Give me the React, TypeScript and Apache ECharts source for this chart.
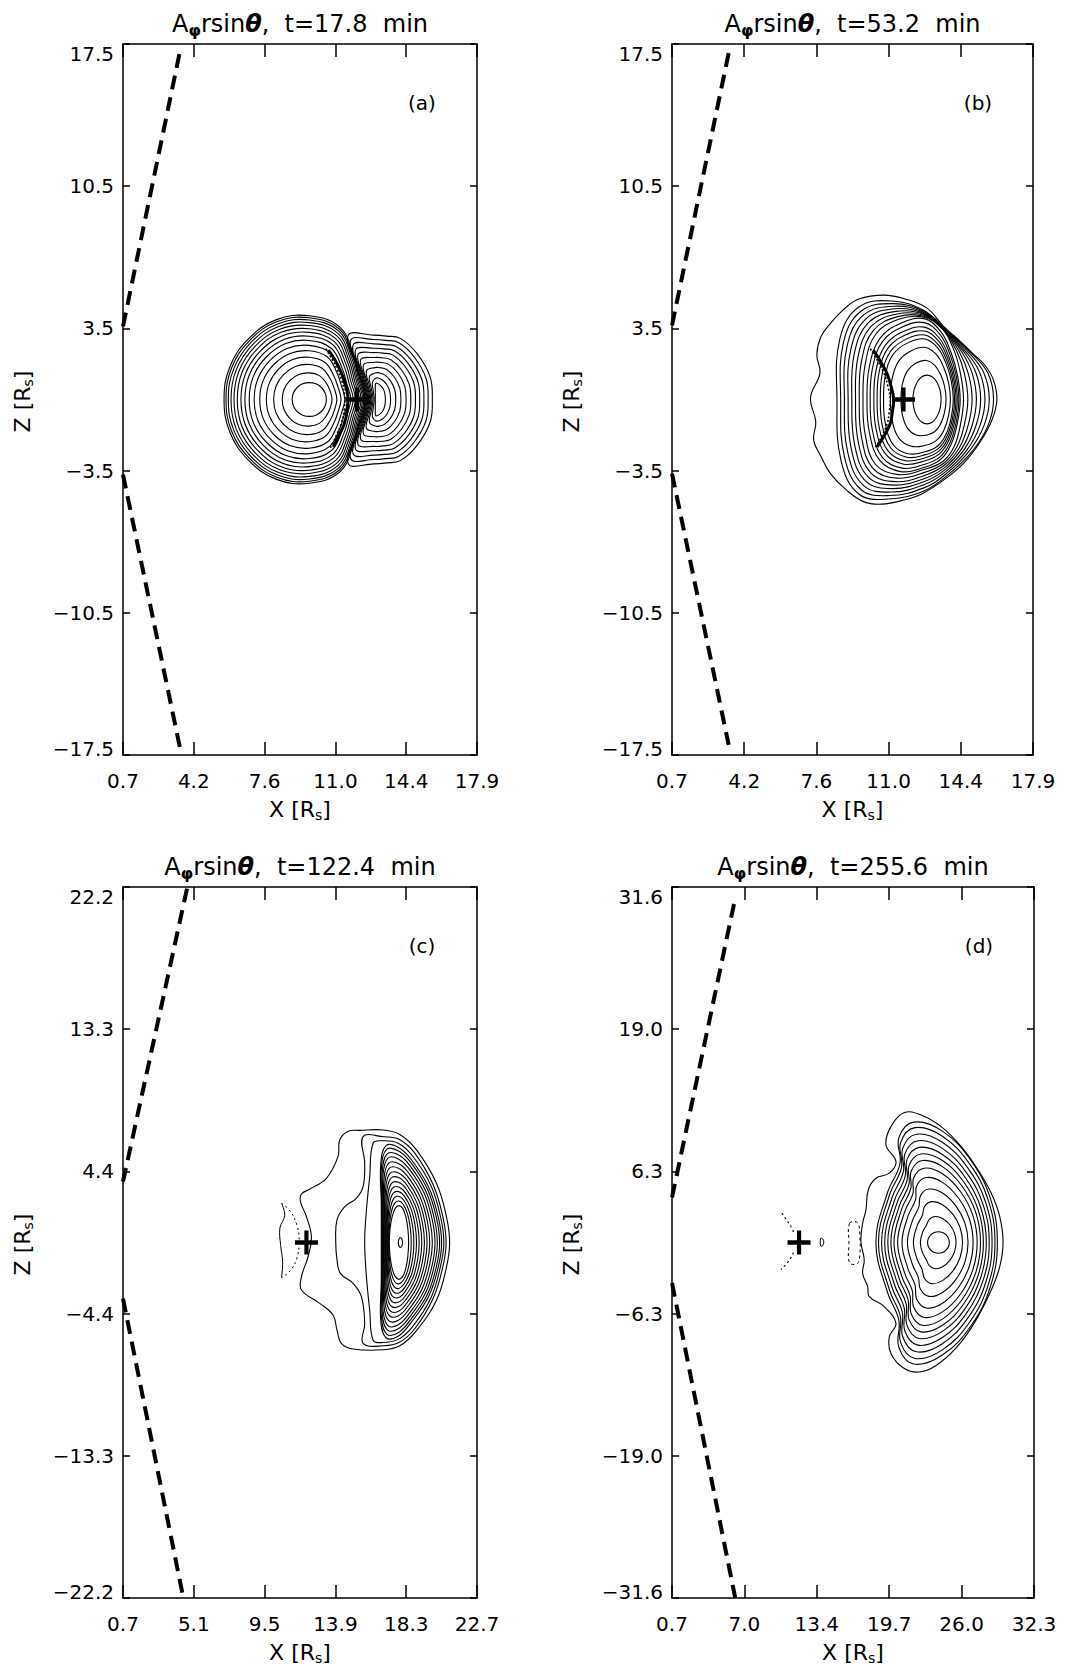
import React, { useEffect, useRef } from 'react';
import * as echarts from 'echarts';

const FONT = 'DejaVu Sans';

// ---------- axis data ----------
const panelTimes = ['17.8', '53.2', '122.4', '255.6'];
const panelLetters = ['(a)', '(b)', '(c)', '(d)'];
const xMin = [0.7, 0.7, 0.7, 0.7];
const xMax = [17.9, 17.9, 22.7, 32.3];
const zMax = [17.5, 17.5, 22.2, 31.6];
const xTickLabels = [
  ['0.7', '4.2', '7.6', '11.0', '14.4', '17.9'],
  ['0.7', '4.2', '7.6', '11.0', '14.4', '17.9'],
  ['0.7', '5.1', '9.5', '13.9', '18.3', '22.7'],
  ['0.7', '7.0', '13.4', '19.7', '26.0', '32.3'],
];
const zTickLabels = [
  ['\u221217.5', '\u221210.5', '\u22123.5', '3.5', '10.5', '17.5'],
  ['\u221217.5', '\u221210.5', '\u22123.5', '3.5', '10.5', '17.5'],
  ['\u221222.2', '\u221213.3', '\u22124.4', '4.4', '13.3', '22.2'],
  ['\u221231.6', '\u221219.0', '\u22126.3', '6.3', '19.0', '31.6'],
];

// ---------- dashed lines (upper, lower) ----------
const dashUpper = [
  [[0.7, 3.6], [3.46, 17.1]],
  [[0.7, 3.65], [3.4, 17.05]],
  [[0.7, 3.8], [4.7, 22.2]],
  [[0.7, 4.0], [6.24, 30.7]],
];
const dashLower = [
  [[0.7, -3.7], [3.46, -17.1]],
  [[0.7, -3.65], [3.4, -17.0]],
  [[0.7, -3.5], [4.45, -22.2]],
  [[0.7, -3.6], [6.22, -31.6]],
];
const crossPos = [[12.06, 0], [11.73, 0], [12.1, 0], [11.79, 0]];

// ---------- panel (a) ----------
const aLeftInner = [[10.58, 0], [10.52, 0.32], [10.34, 0.59], [10.07, 0.77], [9.75, 0.83], [9.43, 0.77], [9.16, 0.59], [8.98, 0.32], [8.92, 0], [8.98, -0.32], [9.16, -0.59], [9.43, -0.77], [9.75, -0.83], [10.07, -0.77], [10.34, -0.59], [10.52, -0.32]];
const aLeftOuter = [[12.46, 0], [12.2, 1.01], [11.91, 2.16], [11.25, 3.55], [9.75, 4.12], [8.13, 3.92], [6.78, 2.97], [5.89, 1.6], [5.61, 0], [5.89, -1.6], [6.78, -2.97], [8.13, -3.92], [9.75, -4.12], [11.25, -3.55], [11.91, -2.16], [12.2, -1.01]];
const aLeftLevels = [0, 0.146, 0.272, 0.379, 0.476, 0.558, 0.631, 0.694, 0.752, 0.806, 0.854, 0.898, 0.937, 0.971, 1];
const aRightInner = [[13.45, 0], [13.42, 0.3], [13.33, 0.55], [13.18, 0.72], [13.05, 0.8], [12.97, 0.78], [12.96, 0.55], [12.96, 0.28], [12.96, 0], [12.96, -0.28], [12.96, -0.55], [12.97, -0.78], [13.05, -0.8], [13.18, -0.72], [13.33, -0.55], [13.42, -0.3]];
const aRightOuter = [[15.73, 0], [15.62, 1.12], [14.98, 2.27], [14.17, 3.01], [13.5, 3.12], [12.87, 3.17], [11.65, 3.17], [12.05, 1.6], [12.46, 0], [12.05, -1.6], [11.65, -3.17], [12.87, -3.17], [13.5, -3.12], [14.17, -3.01], [14.98, -2.27], [15.62, -1.12]];
const aRightLevels = [0, 0.11, 0.22, 0.33, 0.44, 0.54, 0.64, 0.73, 0.82, 0.91, 1];
const aArc = [[10.68, 2.43], [11.0, 1.95], [11.25, 1.45], [11.5, 0.8], [11.62, 0.2], [11.6, -0.5], [11.45, -1.2], [11.2, -1.75], [10.92, -2.33]];
const aArcFringe = [[10.55, 2.5], [10.85, 2.0], [11.1, 1.5], [11.35, 0.85], [11.47, 0.2], [11.45, -0.5], [11.3, -1.2], [11.05, -1.8], [10.75, -2.45]];

// ---------- panel (b) ----------
const bInner = [[13.52, 0], [13.47, 0.46], [13.32, 0.85], [13.11, 1.11], [12.85, 1.2], [12.59, 1.11], [12.38, 0.85], [12.23, 0.46], [12.18, 0], [12.23, -0.46], [12.38, -0.85], [12.59, -1.11], [12.85, -1.2], [13.11, -1.11], [13.32, -0.85], [13.47, -0.46]];
const bBand = [[14.43, 0], [14.3, 1.2], [14.0, 2.3], [13.5, 3.35], [12.7, 3.98], [11.6, 3.75], [10.6, 3.0], [10.1, 1.6], [9.99, 0], [10.1, -1.6], [10.6, -3.0], [11.6, -3.55], [12.7, -3.35], [13.5, -2.95], [14.0, -2.2], [14.3, -1.15]];
const bLevelsIn = [0, 0.26, 0.49, 0.64, 0.71, 0.78, 0.85, 0.93, 1];
const bBandOut = [[14.59, 0], [14.45, 1.25], [14.15, 2.38], [13.6, 3.45], [12.7, 4.05], [11.5, 3.95], [10.4, 3.2], [9.9, 1.7], [9.8, 0], [9.9, -1.7], [10.4, -3.2], [11.5, -3.7], [12.7, -3.45], [13.6, -3.05], [14.15, -2.3], [14.45, -1.2]];
const bOuter = [[16.02, 0], [15.75, 1.3], [15.0, 2.25], [13.8, 3.4], [12.7, 4.38], [11.2, 4.85], [9.6, 4.55], [8.7, 3.0], [8.56, 0], [8.75, -3.0], [9.6, -4.65], [11.0, -4.9], [12.7, -4.5], [13.8, -3.75], [15.0, -2.55], [15.75, -1.3]];
const bLevelsOut = [0, 0.143, 0.286, 0.429, 0.571, 0.714, 0.857, 1];
const bEdge = [[16.18, 0], [16.0, 1.0], [15.6, 1.7], [15.1, 2.2], [14.4, 2.9], [13.64, 3.6], [12.85, 4.5], [11.8, 4.95], [10.8, 5.14], [9.6, 4.95], [8.9, 4.45], [8.25, 3.75], [7.8, 3.1], [7.6, 2.2], [7.75, 1.3], [7.3, 0.1], [7.55, -1.1], [7.45, -2.0], [7.8, -2.8], [8.25, -3.65], [9.0, -4.45], [9.85, -5.04], [10.7, -5.15], [11.75, -4.95], [12.6, -4.65], [13.64, -3.97], [14.59, -3.15], [15.39, -2.08], [15.95, -1.0]];
const bArc = [[10.29, 2.43], [10.65, 1.85], [10.94, 1.29], [11.15, 0.6], [11.26, 0], [11.2, -0.6], [11.1, -1.18], [10.78, -1.84], [10.47, -2.33]];
const bArcFringe = [[10.15, 2.5], [10.5, 1.9], [10.8, 1.3], [11.0, 0.6], [11.1, 0], [11.05, -0.6], [10.95, -1.2], [10.65, -1.9], [10.35, -2.4]];

// ---------- panel (c) ----------
const cInner = [[18.45, 0], [18.4, 0.88], [18.27, 1.63], [18.08, 2.13], [17.85, 2.3], [17.62, 2.13], [17.43, 1.63], [17.3, 0.88], [17.25, 0], [17.3, -0.88], [17.43, -1.63], [17.62, -2.13], [17.85, -2.3], [18.08, -2.13], [18.27, -1.63], [18.4, -0.88]];
const cOuter = [[20.5, 0], [20.3, 1.55], [19.7, 3.45], [18.6, 5.2], [17.8, 5.95], [17.05, 6.05], [16.72, 4.9], [16.75, 2.5], [16.75, 0], [16.75, -2.5], [16.72, -4.9], [17.05, -5.95], [17.8, -5.85], [18.6, -5.0], [19.7, -3.35], [20.3, -1.5]];
const cLevels = [0, 0.08, 0.16, 0.24, 0.32, 0.4, 0.48, 0.56, 0.64, 0.72, 0.8, 0.87, 0.94, 1];
const cCore = [[18.07, 0], [18.03, 0.22], [17.94, 0.31], [17.85, 0.22], [17.81, 0], [17.85, -0.22], [17.94, -0.31], [18.03, -0.22]];
const cW1 = [[21.0, 0], [20.8, 1.62], [20.18, 3.7], [18.94, 5.78], [17.9, 6.75], [16.86, 7.03], [15.41, 7.0], [14.7, 6.95], [14.17, 6.4], [14.06, 5.36], [13.34, 4.01], [12.3, 3.33], [11.79, 3.03], [11.73, 2.55], [12.1, 1.61], [12.41, 0.36], [12.2, -0.89], [11.79, -2.14], [11.79, -2.97], [12.93, -3.8], [13.75, -4.53], [14.0, -5.47], [14.27, -6.3], [15.0, -6.65], [16.86, -6.7], [17.9, -6.45], [18.94, -5.5], [20.18, -3.6], [20.8, -1.55]];
const cW2 = [[20.78, 0], [20.58, 1.6], [19.97, 3.62], [18.82, 5.6], [17.85, 6.45], [16.9, 6.6], [15.62, 6.61], [15.72, 4.95], [15.62, 3.49], [15.2, 2.76], [14.48, 2.24], [14.0, 1.41], [13.92, 0.05], [14.0, -1.09], [14.21, -1.93], [15.0, -2.55], [15.52, -3.39], [15.72, -5.05], [15.62, -6.3], [16.9, -6.45], [17.85, -6.25], [18.82, -5.4], [19.97, -3.5], [20.58, -1.5]];
const cW3 = [[20.64, 0], [20.44, 1.58], [19.84, 3.55], [18.7, 5.4], [17.8, 6.2], [16.8, 6.35], [16.24, 6.2], [16.03, 4.11], [15.83, 2.03], [15.72, 0.05], [15.83, -2.14], [16.03, -4.22], [16.24, -6.1], [16.8, -6.25], [17.8, -6.05], [18.7, -5.25], [19.84, -3.45], [20.44, -1.45]];
const cLensLeft = [[10.55, 2.45], [10.75, 1.7], [10.45, 0.9], [10.5, -0.2], [10.62, -1.2], [10.55, -2.2]];
const cLensRight = [[10.55, 2.45], [11.1, 1.95], [11.5, 1.1], [11.65, 0.1], [11.5, -1.0], [11.1, -1.75], [10.55, -2.2]];

// ---------- panel (d) ----------
const dInner = [[24.91, 0], [24.84, 0.36], [24.63, 0.67], [24.32, 0.88], [23.96, 0.95], [23.6, 0.88], [23.29, 0.67], [23.08, 0.36], [23.01, 0], [23.08, -0.36], [23.29, -0.67], [23.6, -0.88], [23.96, -0.95], [24.32, -0.88], [24.63, -0.67], [24.84, -0.36]];
const dOuter = [[29.1, 0], [28.5, 3.9], [26.8, 7.3], [24.3, 9.9], [21.8, 10.7], [20.5, 9.3], [20.6, 7.0], [19.5, 4.4], [18.5, 0], [19.5, -4.4], [20.5, -6.9], [20.5, -9.3], [21.8, -10.8], [24.3, -10.0], [26.8, -7.4], [28.5, -3.9]];
const dLevels = [0, 0.14, 0.275, 0.39, 0.495, 0.58, 0.65, 0.71, 0.77, 0.83, 0.89, 0.95, 1];
const dEdge = [[29.6, 0], [29.31, 2.3], [28.57, 4.38], [27.41, 6.45], [25.95, 8.52], [24.2, 10.3], [22.44, 11.34], [20.98, 11.55], [19.81, 10.3], [19.38, 8.67], [20.25, 7.19], [19.67, 6.16], [18.5, 5.71], [17.83, 4.67], [17.63, 2.89], [17.34, 1.71], [17.19, 0.08], [17.48, -1.56], [17.34, -2.74], [17.78, -3.93], [17.92, -4.82], [19.23, -5.7], [20.25, -7.19], [19.67, -8.38], [19.81, -9.86], [20.98, -11.2], [22.44, -11.49], [24.2, -10.6], [25.95, -8.83], [27.41, -6.6], [28.57, -4.23], [29.31, -2.15]];
const dSmallD = [[13.68, 0.37], [13.85, 0.33], [13.95, 0.05], [13.85, -0.28], [13.68, -0.31]];
const dBox = [[16.2, 1.7], [16.9, 1.75], [17.1, 0.5], [17.1, -1.0], [16.9, -1.85], [16.2, -1.8], [16.15, 0]];
const dDotsUpper = [[10.3, 2.6], [10.7, 2.0], [11.1, 1.4], [11.4, 0.7]];
const dDotsLower = [[11.3, -0.9], [11.0, -1.5], [10.6, -2.0], [10.2, -2.4]];

// ---------- layout (page pixels; body margin removed) ----------
const gridBoxes = [[123, 44, 354, 711], [672, 44, 361, 711], [123, 887, 354, 711], [672, 887, 362, 711]];

type Shape = { loop: boolean; inner: number[][]; outer: number[][]; t: number; w: number; dash?: number[] };
const family = (inner: number[][], outer: number[][], levels: number[], w = 1.1): Shape[] =>
  levels.map((t) => ({ loop: true, inner, outer, t, w }));
const loop = (pts: number[][], w = 1.1, dash?: number[]): Shape => ({ loop: true, inner: pts, outer: pts, t: 0, w, dash });
const open = (pts: number[][], w = 1.1, dash?: number[]): Shape => ({ loop: false, inner: pts, outer: pts, t: 0, w, dash });

const panelShapes: Shape[][] = [
  [
    ...family(aLeftInner, aLeftOuter, aLeftLevels),
    ...family(aRightInner, aRightOuter, aRightLevels),
    open(aArc, 3),
    open(aArcFringe, 1.6, [2, 2]),
  ],
  [
    ...family(bInner, bBand, bLevelsIn),
    ...family(bBandOut, bOuter, bLevelsOut),
    loop(bEdge),
    open(bArc, 3),
    open(bArcFringe, 1.6, [2, 2]),
  ],
  [
    ...family(cInner, cOuter, cLevels),
    loop(cCore),
    loop(cW1),
    loop(cW2),
    loop(cW3),
    open(cLensLeft, 1),
    open(cLensRight, 1, [2, 3]),
  ],
  [
    ...family(dInner, dOuter, dLevels),
    loop(dEdge),
    loop(dSmallD, 1),
    loop(dBox, 1, [3, 3]),
    open(dDotsUpper, 1.2, [2, 3]),
    open(dDotsLower, 1.2, [2, 3]),
  ],
];

const ticks = (lo: number, hi: number) => [0, 1, 2, 3, 4, 5].map((k) => (k === 5 ? hi : lo + ((hi - lo) * k) / 5));

function buildOption() {
  const grid: any[] = [];
  const xAxis: any[] = [];
  const yAxis: any[] = [];
  const series: any[] = [];
  const graphic: any[] = [];
  const lineCol = '#000';

  for (let p = 0; p < 4; p++) {
    const [gl, gt, gw, gh] = gridBoxes[p];
    grid.push({ left: gl, top: gt, width: gw, height: gh, show: false });
    const xs = ticks(xMin[p], xMax[p]);
    const zs = ticks(-zMax[p], zMax[p]);
    const xStep = (xMax[p] - xMin[p]) / 5;
    const zStep = (2 * zMax[p]) / 5;
    const baseX = {
      type: 'value', gridIndex: p, min: xMin[p], max: xMax[p],
      splitLine: { show: false },
      axisLine: { show: true, onZero: false, lineStyle: { color: lineCol, width: 1.5 } },
      axisTick: { show: true, inside: true, length: 13, customValues: xs, lineStyle: { color: lineCol, width: 1.5 } },
    };
    xAxis.push({
      ...baseX, position: 'bottom',
      axisLabel: {
        show: true, customValues: xs, margin: 16, color: '#000', fontSize: 20, fontFamily: FONT,
        showMinLabel: true, showMaxLabel: true,
        formatter: (v: number) => xTickLabels[p][Math.round((v - xMin[p]) / xStep)],
      },
    });
    xAxis.push({ ...baseX, position: 'top', axisLabel: { show: false } });
    const baseY = {
      type: 'value', gridIndex: p, min: -zMax[p], max: zMax[p],
      splitLine: { show: false },
      axisLine: { show: true, onZero: false, lineStyle: { color: lineCol, width: 1.5 } },
      axisTick: { show: true, inside: true, length: 7, customValues: zs, lineStyle: { color: lineCol, width: 1.5 } },
    };
    const rs = { fontSize: 20, fontFamily: FONT, color: '#000' };
    yAxis.push({
      ...baseY, position: 'left',
      axisLabel: {
        show: true, customValues: zs, margin: 9, color: '#000', fontSize: 20, fontFamily: FONT,
        showMinLabel: true, showMaxLabel: true,
        formatter: (v: number) => {
          const i = Math.round((v + zMax[p]) / zStep);
          const s = zTickLabels[p][i];
          if (i === 5) return '{t|' + s + '}';
          if (i === 0) return '{b|' + s + '}';
          return '{n|' + s + '}';
        },
        rich: { n: rs, t: { ...rs, padding: [20, 0, 0, 0] }, b: { ...rs, padding: [0, 0, 12, 0] } },
      },
    });
    yAxis.push({ ...baseY, position: 'right', axisLabel: { show: false } });

    const shapes = panelShapes[p];
    series.push({
      type: 'custom', xAxisIndex: 2 * p, yAxisIndex: 2 * p, silent: true,
      data: shapes.map((_, i) => [i, 0]),
      renderItem: (params: any, api: any) => {
        const s = shapes[params.dataIndex];
        const pts = s.inner.map((q, k) => {
          const o = s.outer[k];
          return api.coord([q[0] + (o[0] - q[0]) * s.t, q[1] + (o[1] - q[1]) * s.t]);
        });
        return {
          type: s.loop ? 'polygon' : 'polyline',
          shape: { points: pts, smooth: 0.4 },
          style: { fill: 'none', stroke: '#000', lineWidth: s.w, lineDash: s.dash || null, lineJoin: 'round' },
        };
      },
    });
    [dashUpper[p], dashLower[p]].forEach((seg) => {
      series.push({
        type: 'line', xAxisIndex: 2 * p, yAxisIndex: 2 * p, data: seg, showSymbol: false, silent: true,
        lineStyle: { color: '#000', width: 4, type: [14, 8], cap: 'butt' },
      });
    });
    series.push({
      type: 'scatter', xAxisIndex: 2 * p, yAxisIndex: 2 * p, data: [crossPos[p]], silent: true,
      symbol: 'path://M9,0H13V9H22V13H13V22H9V13H0V9H9Z', symbolSize: [23, 24],
      itemStyle: { color: '#000', opacity: 1 },
    });

    const cx = gl + gw / 2;
    graphic.push({
      type: 'text', x: cx, y: gt - 20.5,
      style: {
        text: '{n|A}{s|\u03c6}{n|rsin}{th|\u03b8}{n|,  t=' + panelTimes[p] + '  min}',
        align: 'center', verticalAlign: 'middle',
        rich: {
          n: { fontSize: 24, fontFamily: FONT, fill: '#000', lineHeight: 30, verticalAlign: 'middle' },
          s: { fontSize: 16, fontFamily: FONT, fontWeight: 'bold', fill: '#000', lineHeight: 6, verticalAlign: 'bottom' },
          th: { fontSize: 24, fontFamily: FONT, fontWeight: 'bold', fontStyle: 'italic', fill: '#000', lineHeight: 30, verticalAlign: 'middle' },
        },
      },
    });
    graphic.push({
      type: 'text', x: gl + gw - 55, y: gt + 59,
      style: { text: panelLetters[p], fontSize: 20, fontFamily: FONT, fill: '#000', align: 'center', verticalAlign: 'middle' },
    });
    const nameRich = {
      n: { fontSize: 22, fontFamily: FONT, fill: '#000', lineHeight: 26, verticalAlign: 'middle' },
      s: { fontSize: 14, fontFamily: FONT, fill: '#000', lineHeight: 10, verticalAlign: 'bottom' },
    };
    graphic.push({
      type: 'text', x: cx, y: gt + gh + 54,
      style: { text: '{n|X [R}{s|s}{n|]}', align: 'center', verticalAlign: 'middle', rich: nameRich },
    });
    graphic.push({
      type: 'text', x: gl - 101, y: gt + gh / 2 + 2, rotation: Math.PI / 2,
      style: { text: '{n|Z [R}{s|s}{n|]}', align: 'center', verticalAlign: 'middle', rich: nameRich },
    });
  }

  return { animation: false, backgroundColor: '#fff', grid, xAxis, yAxis, series, graphic };
}

export default function App() {
  const ref = useRef<HTMLDivElement>(null);
  useEffect(() => {
    document.body.style.margin = '0';
    const chart = echarts.init(ref.current as HTMLDivElement, null, { renderer: 'svg' });
    chart.setOption(buildOption() as any);
    return () => chart.dispose();
  }, []);
  return <div ref={ref} style={{ width: 1068, height: 1670 }} />;
}
